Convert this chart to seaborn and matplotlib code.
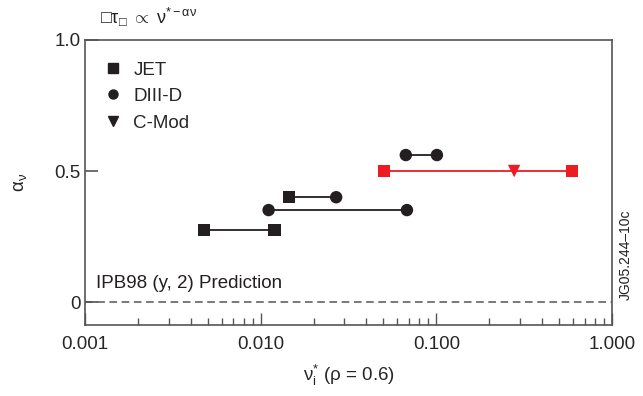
import numpy as np
import pandas as pd
import matplotlib
matplotlib.use("Agg")
import matplotlib.pyplot as plt
from matplotlib.lines import Line2D
import seaborn as sns

# data
seg_id = [0, 0, 1, 1, 2, 2, 3, 3, 4, 4, 4]
nu_star = [0.00475, 0.0120, 0.0145, 0.0269, 0.0111, 0.068, 0.067, 0.1007, 0.0503, 0.277, 0.591]
alpha_nu = [0.275, 0.275, 0.40, 0.40, 0.351, 0.351, 0.561, 0.561, 0.5, 0.5, 0.5]
device = ["JET", "JET", "JET", "DIII-D", "DIII-D", "DIII-D", "DIII-D", "DIII-D", "JET", "C-Mod", "JET"]
highlight = [False] * 8 + [True] * 3

devices = ["JET", "DIII-D", "C-Mod"]
markers = {"JET": "s", "DIII-D": "o", "C-Mod": "v"}
x_ticks = [0.001, 0.01, 0.1, 1.0]
x_ticklabels = ["0.001", "0.010", "0.100", "1.000"]
y_ticks = [0, 0.5, 1.0]
y_ticklabels = ["0", "0.5", "1.0"]

df = pd.DataFrame(dict(seg=seg_id, nu=nu_star, alpha=alpha_nu, device=device, red=highlight))

sns.set_style("ticks")
plt.rcParams["font.family"] = ["Liberation Sans", "DejaVu Sans"]
plt.rcParams["mathtext.fontset"] = "custom"
plt.rcParams["mathtext.rm"] = "Liberation Sans"
plt.rcParams["mathtext.it"] = "Liberation Sans"

fig = plt.figure(figsize=(6.43, 3.96), dpi=100)
ax = fig.add_axes([0.132, 0.179, 0.820, 0.720])

BLACK = "#231f20"
RED = "#ed1c24"

# zero-prediction line
ax.axhline(0, color="#555555", lw=1.1, ls=(0, (5, 3)), zorder=1)

# connecting lines
for red, sub in df.groupby("red"):
    sns.lineplot(data=sub, x="nu", y="alpha", units="seg", estimator=None,
                 color=RED if red else BLACK, lw=1.3, ax=ax, legend=False, zorder=2)

# markers
for red, sub in df.groupby("red"):
    sns.scatterplot(data=sub, x="nu", y="alpha", style="device", markers=markers,
                    style_order=devices, color=RED if red else BLACK, s=80,
                    edgecolor="none", ax=ax, legend=False, zorder=3)

ax.set_xscale("log")
ax.set_xlim(0.001, 1.0)
ax.set_ylim(-0.088, 1.0)
ax.set_xticks(x_ticks)
ax.set_xticklabels(x_ticklabels, fontsize=13.5)
ax.set_yticks(y_ticks)
ax.set_yticklabels(y_ticklabels, fontsize=13.5)
ax.tick_params(axis="x", which="major", direction="in", length=9, width=1, color="#555555", pad=8)
ax.tick_params(axis="x", which="minor", direction="in", length=5, width=1, color="#555555")
ax.tick_params(axis="y", which="major", direction="in", length=9, width=1.2, color="#555555", pad=3)
ax.tick_params(axis="y", which="minor", left=False)
for sp in ax.spines.values():
    sp.set_color("#555555")
    sp.set_linewidth(1.2)

ax.set_xlabel(r"$\mathrm{ν}^{*}_{\mathrm{i}}$ (ρ = 0.6)", fontsize=13.5, labelpad=7)
ax.set_ylabel(r"$\mathrm{α}_{\mathrm{ν}}$", fontsize=13.5, labelpad=18)

ax.text(0.022, 0.115, "IPB98 (y, 2) Prediction", transform=ax.transAxes, fontsize=13.5,
        color=BLACK, va="bottom")

handles = [Line2D([], [], ls="none", marker=markers[d], color=BLACK, markersize=6.5) for d in devices]
ax.legend(handles, devices, loc="upper left", bbox_to_anchor=(0.035, 0.925), frameon=False,
          fontsize=13.5, handletextpad=0.6, labelspacing=0.5, handlelength=1.0,
          borderpad=0, borderaxespad=0)

fig.text(100 / 643, 1 - 17 / 396, r"□$\mathrm{τ}_{□}$ $\propto$ $\mathrm{ν}^{*-\mathrm{αν}}$",
         fontsize=13, va="center", ha="left", color=BLACK)
fig.text(626 / 643, 1 - 300 / 396, "JG05.244\u201310c", rotation=90, fontsize=10,
         va="bottom", ha="center", color=BLACK)

fig.savefig("out.png", dpi=100)
